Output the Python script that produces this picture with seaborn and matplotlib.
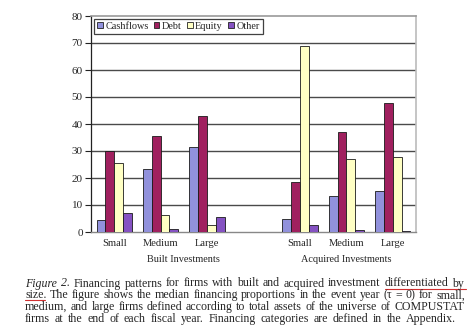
import matplotlib
matplotlib.use("Agg")
import matplotlib.pyplot as plt
import matplotlib.transforms as mtransforms
import seaborn as sns
import pandas as pd

# ---- data ----
slots = ["B-Small", "B-Medium", "B-Large", "gap", "A-Small", "A-Medium", "A-Large"]
slot_labels = ["Small", "Medium", "Large", "", "Small", "Medium", "Large"]
series = ["Cashflows", "Debt", "Equity", "Other"]
cashflows = [4.4, 23.5, 31.5, 4.9, 13.2, 15.2]
debt = [30.0, 35.6, 42.8, 18.6, 37.2, 47.6]
equity = [25.6, 6.3, 2.6, 68.9, 26.9, 27.7]
other = [7.0, 1.2, 5.4, 2.5, 0.6, 0.4]
data_slots = ["B-Small", "B-Medium", "B-Large", "A-Small", "A-Medium", "A-Large"]
group_labels = ["Built Investments", "Acquired Investments"]
yticks = [0, 10, 20, 30, 40, 50, 60, 70, 80]

colors = ["#9191dc", "#a0205f", "#ffffc4", "#8552c2"]

rows = []
for name, vals in zip(series, [cashflows, debt, equity, other]):
    for s, v in zip(data_slots, vals):
        rows.append({"slot": s, "series": name, "value": v})
df = pd.DataFrame(rows)

sns.set_style("white")
plt.rcParams["font.family"] = ["Liberation Serif", "DejaVu Serif"]

fig = plt.figure(figsize=(4.74, 3.32), dpi=100)
W, H = 474, 332
ax = fig.add_axes([91 / W, 1 - 232 / H, (416 - 91) / W, 216 / H])

sns.barplot(data=df, x="slot", y="value", hue="series", order=slots,
            hue_order=series, palette=colors, width=0.76, ax=ax,
            edgecolor="#1a1a1a", linewidth=0.6, saturation=1, zorder=3,
            legend=True)

ax.set_ylim(0, 80)
ax.set_xlim(-0.5, 6.5)
ax.set_yticks(yticks)
ax.set_yticklabels([str(t) for t in yticks], fontsize=8)
ax.set_xticks(range(len(slots)))
ax.set_xticklabels(slot_labels, fontsize=7.6)
ax.set_xlabel("")
ax.set_ylabel("")
for t in yticks[1:-1]:
    ax.axhline(t, color="#4a4a4a", lw=1.0, zorder=1)
ax.tick_params(axis="y", length=4, width=0.8, color="#222", pad=2, left=True, direction="out")
ax.tick_params(axis="x", length=0, pad=5)
ax.spines["left"].set_color("#222")
ax.spines["left"].set_linewidth(0.9)
ax.spines["bottom"].set_color("#888")
ax.spines["bottom"].set_linewidth(1.0)
ax.spines["top"].set_color("#999")
ax.spines["top"].set_linewidth(1.2)
ax.spines["right"].set_color("#bbb")
ax.spines["right"].set_linewidth(1.2)

# group labels
trans = mtransforms.blended_transform_factory(ax.transData, fig.transFigure)
ax.text(1.5, 1 - 259 / H, group_labels[0], transform=trans, ha="center", va="center", fontsize=7.4)
ax.text(5.0, 1 - 259 / H, group_labels[1], transform=trans, ha="center", va="center", fontsize=7.4)

leg = ax.legend(loc="upper left", bbox_to_anchor=(0.009, 0.988), ncol=4, fontsize=7.4,
                frameon=True, fancybox=False, edgecolor="#111", handlelength=0.55,
                handleheight=0.55, handletextpad=0.25, columnspacing=0.5,
                borderpad=0.3, borderaxespad=0.0, title=None)
leg.get_frame().set_linewidth(0.9)
for h in leg.legend_handles:
    h.set_edgecolor("#222")
    h.set_linewidth(0.6)

# caption, justified
cap_lines = [
    [("Figure 2.", "italic"), ("Financing patterns for firms with built and acquired investment differentiated by", "normal")],
    [("size. The figure shows the median financing proportions in the event year (τ = 0) for small,", "normal")],
    [("medium, and large firms defined according to total assets of the universe of COMPUSTAT", "normal")],
    [("firms at the end of each fiscal year. Financing categories are defined in the Appendix.", "normal")],
]
baselines = [286.5, 298.3, 310.0, 321.7]
x0 = 25
line_ends = [464, 465, 464, 456]
renderer = fig.canvas.get_renderer()


def words_of(parts):
    out = []
    for txt, style in parts:
        for w in txt.split(" "):
            out.append((w, style))
    return out


def natural_width(parts, fs):
    ws = words_of(parts)
    tot = 0.0
    for w, style in ws:
        t = fig.text(0, 0, w, fontsize=fs, style=style)
        tot += t.get_window_extent(renderer).width
        t.remove()
    sp = fig.text(0, 0, "a a", fontsize=fs)
    sp2 = fig.text(0, 0, "aa", fontsize=fs)
    gap = sp.get_window_extent(renderer).width - sp2.get_window_extent(renderer).width
    sp.remove(); sp2.remove()
    return tot + gap * (len(ws) - 1), gap


# caption size: widest justified line fits naturally in the text block
widest = max(natural_width(p, 10)[0] / (e - x0) for p, e in zip(cap_lines, line_ends))
cap_fs = 10 / widest * 0.985

for parts, yb, x1 in zip(cap_lines, baselines, line_ends):
    words = words_of(parts)
    objs = []
    for w, style in words:
        t = fig.text(0, 1 - yb / H, w, fontsize=cap_fs, style=style, ha="left", va="baseline")
        objs.append(t)
    widths = [o.get_window_extent(renderer).width for o in objs]
    gap = (x1 - x0 - sum(widths)) / (len(objs) - 1)
    x = x0
    for o, wdt in zip(objs, widths):
        o.set_x(x / W)
        x += wdt + gap

# red spell-check underline
fig.add_artist(plt.Line2D([385 / W, 466 / W], [1 - 288.5 / H] * 2, color="#d03030", lw=0.8))
fig.add_artist(plt.Line2D([25 / W, 45 / W], [1 - 300.3 / H] * 2, color="#d03030", lw=0.8))

fig.savefig("out.png", dpi=100)
